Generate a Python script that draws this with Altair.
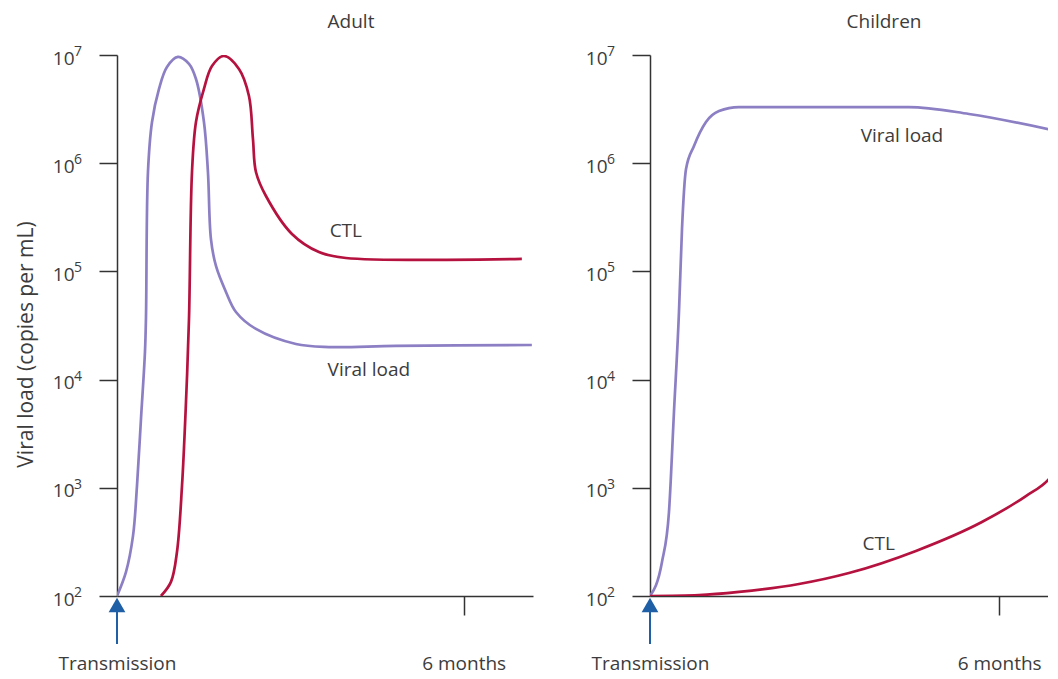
import altair as alt
import pandas as pd

# ---------------- data ----------------
# Adult panel
adult_vl_month = [0, 0.156, 0.277, 0.346, 0.415, 0.484, 0.502, 0.536, 0.606, 0.727, 0.865,
                  1.055, 1.246, 1.367, 1.505, 1.574, 1.626, 1.713, 1.886, 2.059, 2.405,
                  3.097, 3.668, 4.827, 7.18]
adult_vl_load = [100, 167, 359, 1040, 4325, 17990, 38730, 829800, 2404000, 4853000, 7745000,
                 9594000, 8260000, 5998000, 2404000, 829800, 199100, 112200, 64570, 42170, 29380,
                 21330, 20000, 20460, 20890]
adult_ctl_month = [0.761, 0.934, 1.038, 1.125, 1.194, 1.246, 1.298, 1.367, 1.505, 1.644,
                   1.851, 2.111, 2.284, 2.353, 2.405, 2.578, 3.028, 3.495, 3.962, 7.007]
adult_ctl_load = [100, 135, 255, 1040, 6209, 36310, 829800, 2404000, 4853000, 7907000,
                  9795000, 7430000, 4178000, 1675000, 829800, 497700, 221800, 151000, 133000, 130300]

# Children panel
child_vl_month = [0, 0.206, 0.326, 0.412, 0.498, 0.550, 0.619, 0.756, 0.962, 1.186, 1.529,
                  2.904, 4.45, 5.481, 6.993]
child_vl_load = [100, 206, 597, 5023, 42170, 246600, 883100, 1442000, 2404000, 3034000, 3304000,
                 3304000, 3304000, 2851000, 1986000]
child_ctl_month = [0, 0.842, 1.529, 2.560, 3.419, 4.570, 5.704, 6.460, 6.856, 6.993]
child_ctl_load = [100, 102, 109, 129, 163, 261, 483, 839, 1205, 1493]

# curve labels
adult_label_text = ["CTL", "Viral load"]
adult_label_month = [3.96, 4.36]
adult_label_load = [236000, 12270]
child_label_text = ["Viral load", "CTL"]
child_label_month = [4.33, 3.93]
child_label_load = [1780000, 302]

tick_values = [1e2, 1e3, 1e4, 1e5, 1e6, 1e7]
tick_exponents = ["2", "3", "4", "5", "6", "7"]
x_tick_values = [0, 6]
panel_titles = ["Adult", "Children"]

# ---------------- style ----------------
FONT = "Open Sans"
TXT = "#3c3c3c"
AX = "#333333"
PURPLE = "#8c7fc4"
RED = "#b5123f"
BLUE = "#1f5fa6"
H = 541
FS = 19


def panel(vl_m, vl_l, ctl_m, ctl_l, lab_t, lab_m, lab_l, xmax, width, title, dx, ytitle, interp):
    lines = pd.DataFrame({
        "month": vl_m + ctl_m,
        "load": vl_l + ctl_l,
        "series": ["Viral load"] * len(vl_m) + ["CTL"] * len(ctl_m),
    })
    labels = pd.DataFrame({"month": lab_m, "load": lab_l, "label": lab_t})
    exps = pd.DataFrame({"load": tick_values, "exp": tick_exponents})
    origin = pd.DataFrame({"month": [0]})

    xscale = alt.Scale(domain=[0, xmax], nice=False, zero=False)
    yscale = alt.Scale(type="log", domain=[100, 1e7], nice=False)
    xaxis = alt.Axis(
        values=x_tick_values,
        labelExpr="datum.value == 0 ? 'Transmission' : '6 months'",
        tickSize=19, tickWidth=1.5, domainWidth=1.5,
        domainColor=AX, tickColor=AX,
        tickOpacity={"condition": {"test": "datum.value == 0", "value": 0}, "value": 1},
        labelPadding=39, labelFont=FONT, labelFontSize=FS, labelColor=TXT,
        labelFlush=False, labelBaseline="top", grid=False, title=None,
    )
    yaxis_kw = dict(
        values=tick_values, labelExpr="'10'",
        tickSize=18, tickWidth=1.5, domainWidth=1.5,
        domainColor=AX, tickColor=AX,
        labelPadding=25, labelFont=FONT, labelFontSize=FS, labelColor=TXT,
        labelBaseline="middle", labelOffset=3, grid=False,
    )
    if ytitle:
        yaxis = alt.Axis(title=ytitle, titleFont=FONT, titleFontSize=21,
                         titleFontWeight="normal", titleColor=TXT, titlePadding=16,
                         titleY=289, **yaxis_kw)
    else:
        yaxis = alt.Axis(title=None, **yaxis_kw)

    X = alt.X("month:Q", scale=xscale, axis=xaxis)
    Y = alt.Y("load:Q", scale=yscale, axis=yaxis)
    color = alt.Color("series:N", scale=alt.Scale(domain=["Viral load", "CTL"],
                                                  range=[PURPLE, RED]), legend=None)

    line_layer = alt.Chart(lines).mark_line(interpolate=interp, strokeWidth=2.7,
                                            clip=True).encode(x=X, y=Y, color=color)
    label_layer = alt.Chart(labels).mark_text(font=FONT, fontSize=FS, color=TXT).encode(
        x=X, y=Y, text="label:N")
    exp_layer = alt.Chart(exps).mark_text(font=FONT, fontSize=14, color=TXT, align="left",
                                          baseline="middle", dy=-3).encode(
        x=alt.value(-43), y=Y, text="exp:N")
    arrow_shaft = alt.Chart(origin).mark_rule(color=BLUE, strokeWidth=2).encode(
        x=X, y=alt.value(H + 48), y2=alt.value(H + 6))
    arrow_head = alt.Chart(origin).mark_point(shape="triangle-up", filled=True, size=280,
                                              color=BLUE, opacity=1).encode(
        x=X, y=alt.value(H + 9))

    return alt.layer(line_layer, label_layer, exp_layer, arrow_shaft, arrow_head).properties(
        width=width, height=H,
        title=alt.TitleParams(title, anchor="middle", frame="group", dx=dx, offset=13,
                              font=FONT, fontSize=FS, fontWeight="normal", color=TXT),
    )


left = panel(adult_vl_month, adult_vl_load, adult_ctl_month, adult_ctl_load,
             adult_label_text, adult_label_month, adult_label_load,
             7.2, 416, panel_titles[0], 26, "Viral load (copies per mL)", "catmull-rom")
right = panel(child_vl_month, child_vl_load, child_ctl_month, child_ctl_load,
              child_label_text, child_label_month, child_label_load,
              6.84, 398, panel_titles[1], 35, None, "monotone")

chart = alt.hconcat(left, right, spacing=52).properties(
    padding={"left": 7, "top": 5, "right": 0, "bottom": 5}
).configure(font=FONT).configure_view(stroke=None)

chart.save("out.html", embed_options={"renderer": "svg", "actions": False})
